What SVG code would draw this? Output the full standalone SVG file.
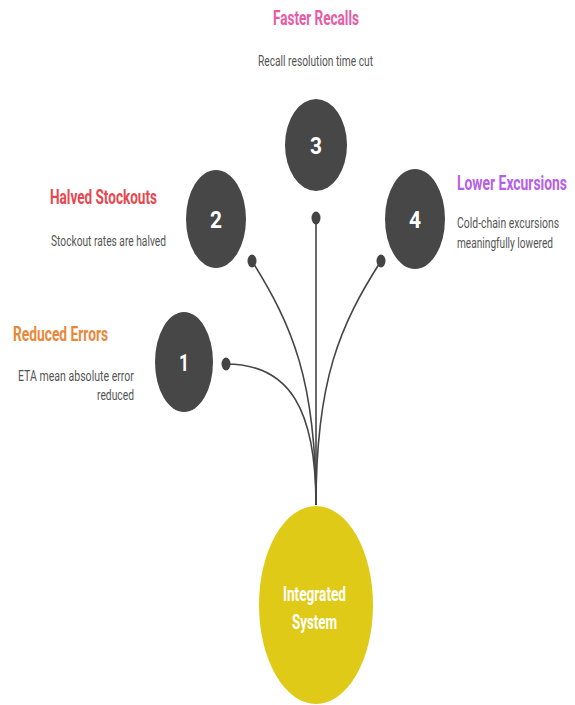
<svg xmlns="http://www.w3.org/2000/svg" width="575" height="705" viewBox="0 0 575 705">
<style>
.node{fill:#474747}
text{font-family:Roboto,"Liberation Sans",sans-serif}
.num{font-weight:700;font-size:24px;fill:#fff}
.title{font-weight:700;font-size:20px}
.desc{font-size:14px;fill:#555}
.center{font-weight:700;font-size:20px;fill:#fff}
.link{fill:none;stroke:#444;stroke-width:1.6}
.dot{fill:#444}
</style>
<rect width="575" height="705" fill="#fff"/>
<g id="connectors">
<path class="link" d="M316 505 L316 218"/>
<path class="link" d="M316 505 C316 380 292 325 252 261"/>
<path class="link" d="M316 505 C316 380 340 325 381 261"/>
<path class="link" d="M316 505 C316 410 290 364 226 364"/>
<ellipse class="dot" cx="316" cy="218" rx="4.5" ry="6.5"/>
<ellipse class="dot" cx="252" cy="261" rx="4.5" ry="6.5"/>
<ellipse class="dot" cx="381" cy="261" rx="4.5" ry="6.5"/>
<ellipse class="dot" cx="226" cy="364" rx="4.5" ry="6.5"/>
</g>
<g id="node-center">
<ellipse cx="316" cy="605" rx="57" ry="99" fill="#dfcb17"/>
<text class="center" transform="translate(283,601) scale(0.72,1)" textLength="87.5" lengthAdjust="spacingAndGlyphs">Integrated</text>
<text class="center" transform="translate(292,629) scale(0.72,1)" textLength="62.5" lengthAdjust="spacingAndGlyphs">System</text>
</g>
<g id="node-1">
<ellipse class="node" cx="184" cy="362" rx="29" ry="50"/>
<text class="num" transform="translate(179,371) scale(0.72,1)" textLength="14" lengthAdjust="spacingAndGlyphs">1</text>
<text class="title" fill="#e8883a" transform="translate(13,341) scale(0.72,1)" textLength="132" lengthAdjust="spacingAndGlyphs">Reduced Errors</text>
<text class="desc" transform="translate(18,381) scale(0.72,1)" textLength="161" lengthAdjust="spacingAndGlyphs">ETA mean absolute error</text>
<text class="desc" transform="translate(97,400) scale(0.72,1)" textLength="51.4" lengthAdjust="spacingAndGlyphs">reduced</text>
</g>
<g id="node-2">
<ellipse class="node" cx="216" cy="219" rx="30" ry="49"/>
<text class="num" transform="translate(210,228) scale(0.72,1)" textLength="16.7" lengthAdjust="spacingAndGlyphs">2</text>
<text class="title" fill="#e5494f" transform="translate(50,204) scale(0.72,1)" textLength="148.6" lengthAdjust="spacingAndGlyphs">Halved Stockouts</text>
<text class="desc" transform="translate(51,246) scale(0.72,1)" textLength="159.7" lengthAdjust="spacingAndGlyphs">Stockout rates are halved</text>
</g>
<g id="node-3">
<ellipse class="node" cx="316" cy="145" rx="31" ry="46"/>
<text class="num" transform="translate(310,154) scale(0.72,1)" textLength="16.7" lengthAdjust="spacingAndGlyphs">3</text>
<text class="title" fill="#e85aa6" transform="translate(273,25) scale(0.72,1)" textLength="119.4" lengthAdjust="spacingAndGlyphs">Faster Recalls</text>
<text class="desc" transform="translate(258,66) scale(0.72,1)" textLength="159.7" lengthAdjust="spacingAndGlyphs">Recall resolution time cut</text>
</g>
<g id="node-4">
<ellipse class="node" cx="415" cy="219" rx="30" ry="50"/>
<text class="num" transform="translate(409,228) scale(0.72,1)" textLength="16.7" lengthAdjust="spacingAndGlyphs">4</text>
<text class="title" fill="#b660e6" transform="translate(457,190) scale(0.72,1)" textLength="152.8" lengthAdjust="spacingAndGlyphs">Lower Excursions</text>
<text class="desc" transform="translate(457,228) scale(0.72,1)" textLength="141.7" lengthAdjust="spacingAndGlyphs">Cold-chain excursions</text>
<text class="desc" transform="translate(457,248) scale(0.72,1)" textLength="133.3" lengthAdjust="spacingAndGlyphs">meaningfully lowered</text>
</g>
</svg>
